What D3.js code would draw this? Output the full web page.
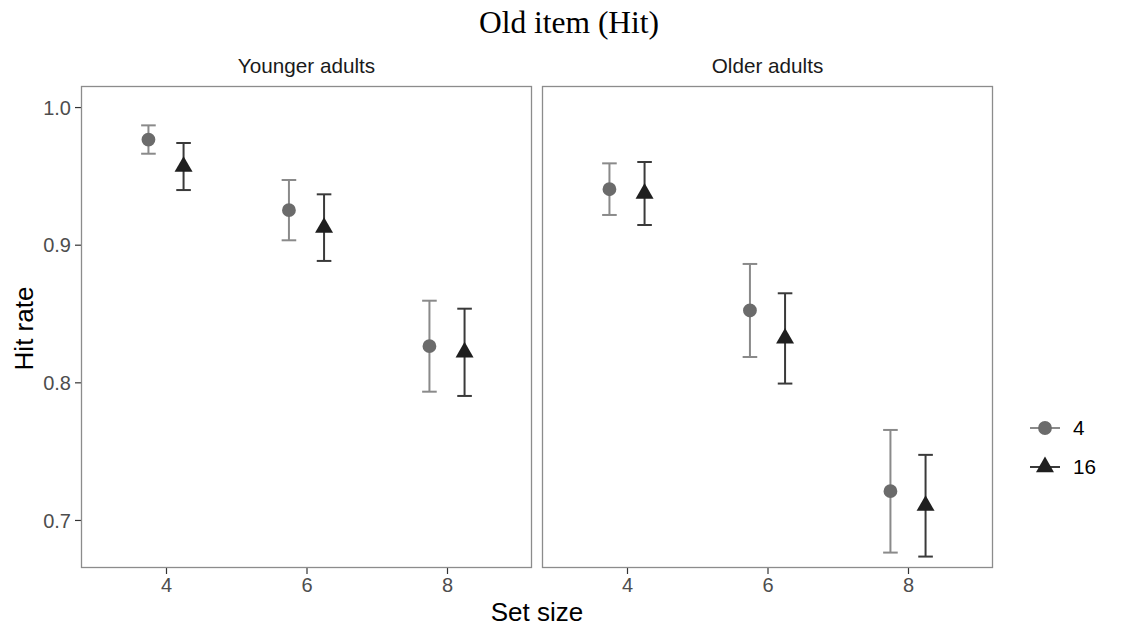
<!DOCTYPE html>
<html>
<head>
<meta charset="utf-8">
<script src="https://cdn.jsdelivr.net/npm/d3@7"></script>
<style>
  html, body { margin: 0; padding: 0; background: #fff; }
  svg { display: block; }
</style>
</head>
<body>
<svg id="chart" width="1123" height="629"></svg>
<script>
// ---------- data ----------
const panels = ["Younger adults", "Older adults"];
const setSizes = [4, 6, 8];
const groups = ["4", "16"];
const yTicks = [0.7, 0.8, 0.9, 1.0];
const xTicks = [4, 6, 8];

const youngMean4  = [0.9764, 0.9251, 0.8263];
const youngLow4   = [0.9661, 0.9032, 0.7932];
const youngHigh4  = [0.9867, 0.9470, 0.8593];
const youngMean16 = [0.9568, 0.9124, 0.8219];
const youngLow16  = [0.9397, 0.8882, 0.7901];
const youngHigh16 = [0.9739, 0.9366, 0.8535];

const olderMean4  = [0.9403, 0.8522, 0.7209];
const olderLow4   = [0.9216, 0.8184, 0.6763];
const olderHigh4  = [0.9591, 0.8860, 0.7654];
const olderMean16 = [0.9372, 0.8319, 0.7104];
const olderLow16  = [0.9143, 0.7991, 0.6734];
const olderHigh16 = [0.9601, 0.8647, 0.7473];

const series = [
  { panel: "Younger adults", group: "4",  mean: youngMean4,  low: youngLow4,  high: youngHigh4 },
  { panel: "Younger adults", group: "16", mean: youngMean16, low: youngLow16, high: youngHigh16 },
  { panel: "Older adults",   group: "4",  mean: olderMean4,  low: olderLow4,  high: olderHigh4 },
  { panel: "Older adults",   group: "16", mean: olderMean16, low: olderLow16, high: olderHigh16 }
];
const rows = [];
series.forEach(s => setSizes.forEach((sz, i) =>
  rows.push({ panel: s.panel, group: s.group, size: sz, mean: s.mean[i], low: s.low[i], high: s.high[i] })));

// ---------- layout ----------
const svg = d3.select("#chart");
const panelTop = 86, panelBottom = 568;
const panelX = { "Younger adults": [81, 532], "Older adults": [542, 993] };
const dodge = { "4": -0.25, "16": 0.25 };
const pointFill = { "4": "#6b6b6b", "16": "#1f1f1f" };
const barColor  = { "4": "#8a8a8a", "16": "#3a3a3a" };
const shape     = { "4": d3.symbolCircle, "16": d3.symbolTriangle };
const shapeSize = { "4": 150, "16": 140 };

const y = d3.scaleLinear().domain([0.6651, 1.0153]).range([panelBottom, panelTop]);

const sans = "Liberation Sans, Arial, Helvetica, sans-serif";

// title
svg.append("text")
  .attr("x", 569).attr("y", 33)
  .attr("text-anchor", "middle")
  .attr("font-family", "Liberation Serif, Times New Roman, serif")
  .attr("font-size", 31.5)
  .attr("fill", "#000")
  .text("Old item (Hit)");

panels.forEach((p, pi) => {
  const [x0, x1] = panelX[p];
  const x = d3.scaleLinear().domain([2.79, 9.21]).range([x0, x1]);
  const g = svg.append("g");

  g.append("text")
    .attr("x", (x0 + x1) / 2).attr("y", 73)
    .attr("text-anchor", "middle")
    .attr("font-family", sans).attr("font-size", 20.7)
    .attr("fill", "#1a1a1a")
    .text(p);

  const xa = g.append("g").attr("transform", `translate(0,${panelBottom})`)
    .call(d3.axisBottom(x).tickValues(xTicks).tickFormat(d3.format("d")).tickSize(6).tickPadding(4));
  xa.select(".domain").remove();
  xa.selectAll("line").attr("stroke", "#333").attr("stroke-width", 1.2);
  xa.selectAll("text").attr("font-family", sans).attr("font-size", 20).attr("fill", "#4d4d4d");

  if (pi === 0) {
    const ya = g.append("g").attr("transform", `translate(${x0},0)`)
      .call(d3.axisLeft(y).tickValues(yTicks).tickFormat(d3.format(".1f")).tickSize(6).tickPadding(4));
    ya.select(".domain").remove();
    ya.selectAll("line").attr("stroke", "#333").attr("stroke-width", 1.2);
    ya.selectAll("text").attr("font-family", sans).attr("font-size", 20).attr("fill", "#4d4d4d")
      .attr("dy", "0.36em");
  }

  const data = rows.filter(r => r.panel === p);
  const cap = 7.3;
  const eb = g.selectAll(".eb").data(data).enter().append("g")
    .attr("stroke", d => barColor[d.group]).attr("stroke-width", 2).attr("fill", "none");
  eb.append("line")
    .attr("x1", d => x(d.size + dodge[d.group])).attr("x2", d => x(d.size + dodge[d.group]))
    .attr("y1", d => y(d.low)).attr("y2", d => y(d.high));
  eb.append("line")
    .attr("x1", d => x(d.size + dodge[d.group]) - cap).attr("x2", d => x(d.size + dodge[d.group]) + cap)
    .attr("y1", d => y(d.low)).attr("y2", d => y(d.low));
  eb.append("line")
    .attr("x1", d => x(d.size + dodge[d.group]) - cap).attr("x2", d => x(d.size + dodge[d.group]) + cap)
    .attr("y1", d => y(d.high)).attr("y2", d => y(d.high));

  g.selectAll(".pt").data(data).enter().append("path")
    .attr("d", d => d3.symbol().type(shape[d.group]).size(shapeSize[d.group])())
    .attr("transform", d => `translate(${x(d.size + dodge[d.group])},${y(d.mean)})`)
    .attr("fill", d => pointFill[d.group]);

  g.append("rect")
    .attr("x", x0 + 0.5).attr("y", panelTop + 0.5)
    .attr("width", x1 - x0 - 1).attr("height", panelBottom - panelTop - 1)
    .attr("fill", "none").attr("stroke", "#8c8c8c").attr("stroke-width", 1.3);
});

svg.append("text")
  .attr("transform", "translate(32.5,328.5) rotate(-90)")
  .attr("text-anchor", "middle")
  .attr("font-family", sans).attr("font-size", 26).attr("fill", "#000")
  .text("Hit rate");
svg.append("text")
  .attr("x", 537).attr("y", 621)
  .attr("text-anchor", "middle")
  .attr("font-family", sans).attr("font-size", 26).attr("fill", "#000")
  .text("Set size");

const legY = d3.scalePoint().domain(groups).range([428, 467]);
const leg = svg.append("g");
groups.forEach(gr => {
  const cy = legY(gr);
  leg.append("line").attr("x1", 1030).attr("x2", 1060).attr("y1", cy).attr("y2", cy)
    .attr("stroke", barColor[gr]).attr("stroke-width", 2);
  leg.append("path")
    .attr("d", d3.symbol().type(shape[gr]).size(shapeSize[gr])())
    .attr("transform", `translate(1045,${cy})`)
    .attr("fill", pointFill[gr]);
  leg.append("text")
    .attr("x", 1073).attr("y", cy).attr("dy", "0.36em")
    .attr("font-family", sans).attr("font-size", 20.7).attr("fill", "#000")
    .text(gr);
});
</script>
</body>
</html>
